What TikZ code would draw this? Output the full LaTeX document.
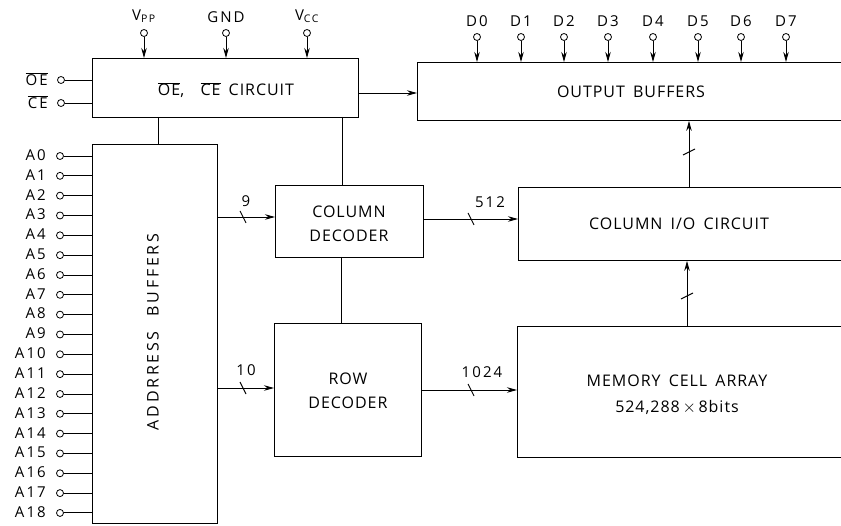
\documentclass[tikz,border=0pt]{standalone}
\usepackage{fontspec}
\setmainfont{Open Sans}
\newfontfamily\boxfont[LetterSpace=6,WordSpace=1.6]{Open Sans}
\newfontfamily\vertfont[LetterSpace=17,WordSpace=2.2]{Open Sans}
\newfontfamily\pinfont[LetterSpace=14]{Open Sans}
\usetikzlibrary{arrows.meta,calc}
\newcommand{\ovl}[1]{$\overline{\mbox{#1}}$}
\tikzset{
  blk/.style={draw,line width=0.9pt,rectangle,inner sep=0pt,anchor=north west},
  txt/.style={font=\boxfont\fontsize{16}{18}\selectfont,inner sep=1pt,align=center},
  vtxt/.style={font=\vertfont\fontsize{16}{18}\selectfont,inner sep=1pt},
  lbl/.style={font=\pinfont\fontsize{15}{17}\selectfont,inner sep=1pt},
  pinc/.style={draw,circle,line width=0.8pt,minimum size=7pt,inner sep=0pt},
  wire/.style={line width=0.9pt},
  arr/.style={line width=0.9pt,-{Stealth[length=10pt,width=5.5pt]}},
}
\begin{document}
\begin{tikzpicture}[x=1pt,y=-1pt]
\clip (0,0) rectangle (841,526);
\fill[white] (0,0) rectangle (841,526);
% boxes
\node[blk,minimum width=266pt,minimum height=59pt] (oece) at (92,58) {};
\node[txt] (toece) at (226,90) {\ovl{OE},\ \ \ovl{CE} CIRCUIT};
\node[blk,minimum width=440pt,minimum height=58pt] (ob) at (417,62) {};
\node[txt] (tob) at (631,92) {OUTPUT BUFFERS};
\node[blk,minimum width=125pt,minimum height=379pt] (ab) at (92,144) {};
\node[vtxt,rotate=90] (tab) at (153,332) {ADDRRESS BUFFERS};
\node[blk,minimum width=148pt,minimum height=72pt] (cd) at (275,185) {};
\node[txt] (tcd) at (349,224) {COLUMN\\[6pt]DECODER};
\node[blk,minimum width=147pt,minimum height=133pt] (rd) at (274,323) {};
\node[txt] (trd) at (348,391) {ROW\\[6pt]DECODER};
\node[blk,minimum width=340pt,minimum height=73pt] (cio) at (518,187) {};
\node[txt] (tcio) at (679,224) {COLUMN I/O CIRCUIT};
\node[blk,minimum width=340pt,minimum height=131pt] (mca) at (517,326) {};
\node[txt] (tmca) at (677,395) {MEMORY CELL ARRAY\\[8pt]524,288\,$\times$\,8bits};
% power pins
\foreach \nm/\x/\t in {vpp/144/{V\textsubscript{PP}},gnd/226/GND,vcc/307/{V\textsubscript{CC}}}{
  \node[pinc] (\nm) at (\x,33) {};
  \node[lbl,anchor=south] (l\nm) at (\x,24) {\t};
  \draw[arr] (\nm) -- (\nm |- oece.north);
}
% OE CE pins
\node[pinc] (poe) at (61,80) {};
\node[lbl,anchor=east] (loe) at (49,79) {\ovl{OE}};
\draw[wire] (poe) -- (poe -| oece.west);
\node[pinc] (pce) at (61,103) {};
\node[lbl,anchor=east] (lce) at (49,102) {\ovl{CE}};
\draw[wire] (pce) -- (pce -| oece.west);
% D pins
\foreach \x [count=\i from 0] in {477,521,564,608,653,698,741,786}{
  \node[pinc] (d\i) at (\x,37) {};
  \node[lbl,anchor=south] (ld\i) at (\x,28) {D\i};
  \draw[arr] (d\i) -- (d\i |- ob.north);
}
% address pins
\foreach \i in {0,...,18}{
  \node[pinc] (a\i) at (60,{156+19.83*\i}) {};
  \node[lbl,anchor=east] (la\i) at (47,{155+19.83*\i}) {A\i};
  \draw[wire] (a\i) -- (a\i -| ab.west);
}
% internal connections
\coordinate (c1) at (158,117);
\draw[wire] (c1) -- (c1 |- ab.north);
\coordinate (c2) at (342,117);
\draw[wire] (c2) -- (c2 |- cd.north);
\coordinate (c3) at (341,257);
\draw[wire] (c3) -- (c3 |- rd.north);
\coordinate (c4) at (358,93);
\draw[arr] (c4) -- (c4 -| ob.west);
% buses
\coordinate (b9) at (217,217);
\draw[arr] (b9) -- (b9 -| cd.west);
\draw[wire] (240,211) -- (246,223);
\node[lbl] (n9) at (246,201) {9};
\coordinate (b10) at (217,388);
\draw[arr] (b10) -- (b10 -| rd.west);
\draw[wire] (240,382) -- (246,394);
\node[lbl] (n10) at (246,370) {10};
\coordinate (b512) at (423,219);
\draw[arr] (b512) -- (b512 -| cio.west);
\draw[wire] (468,213) -- (474,225);
\node[lbl] (n512) at (490,202) {512};
\coordinate (b1024) at (421,390);
\draw[arr] (b1024) -- (b1024 -| mca.west);
\draw[wire] (468,384) -- (474,396);
\node[lbl] (n1024) at (482,372) {1024};
\coordinate (bm) at (687,326);
\draw[arr] (bm) -- (bm |- cio.south);
\draw[wire] (681,299) -- (693,293);
\coordinate (bc) at (689,187);
\draw[arr] (bc) -- (bc |- ob.south);
\draw[wire] (683,155) -- (695,149);
\end{tikzpicture}
\end{document}
